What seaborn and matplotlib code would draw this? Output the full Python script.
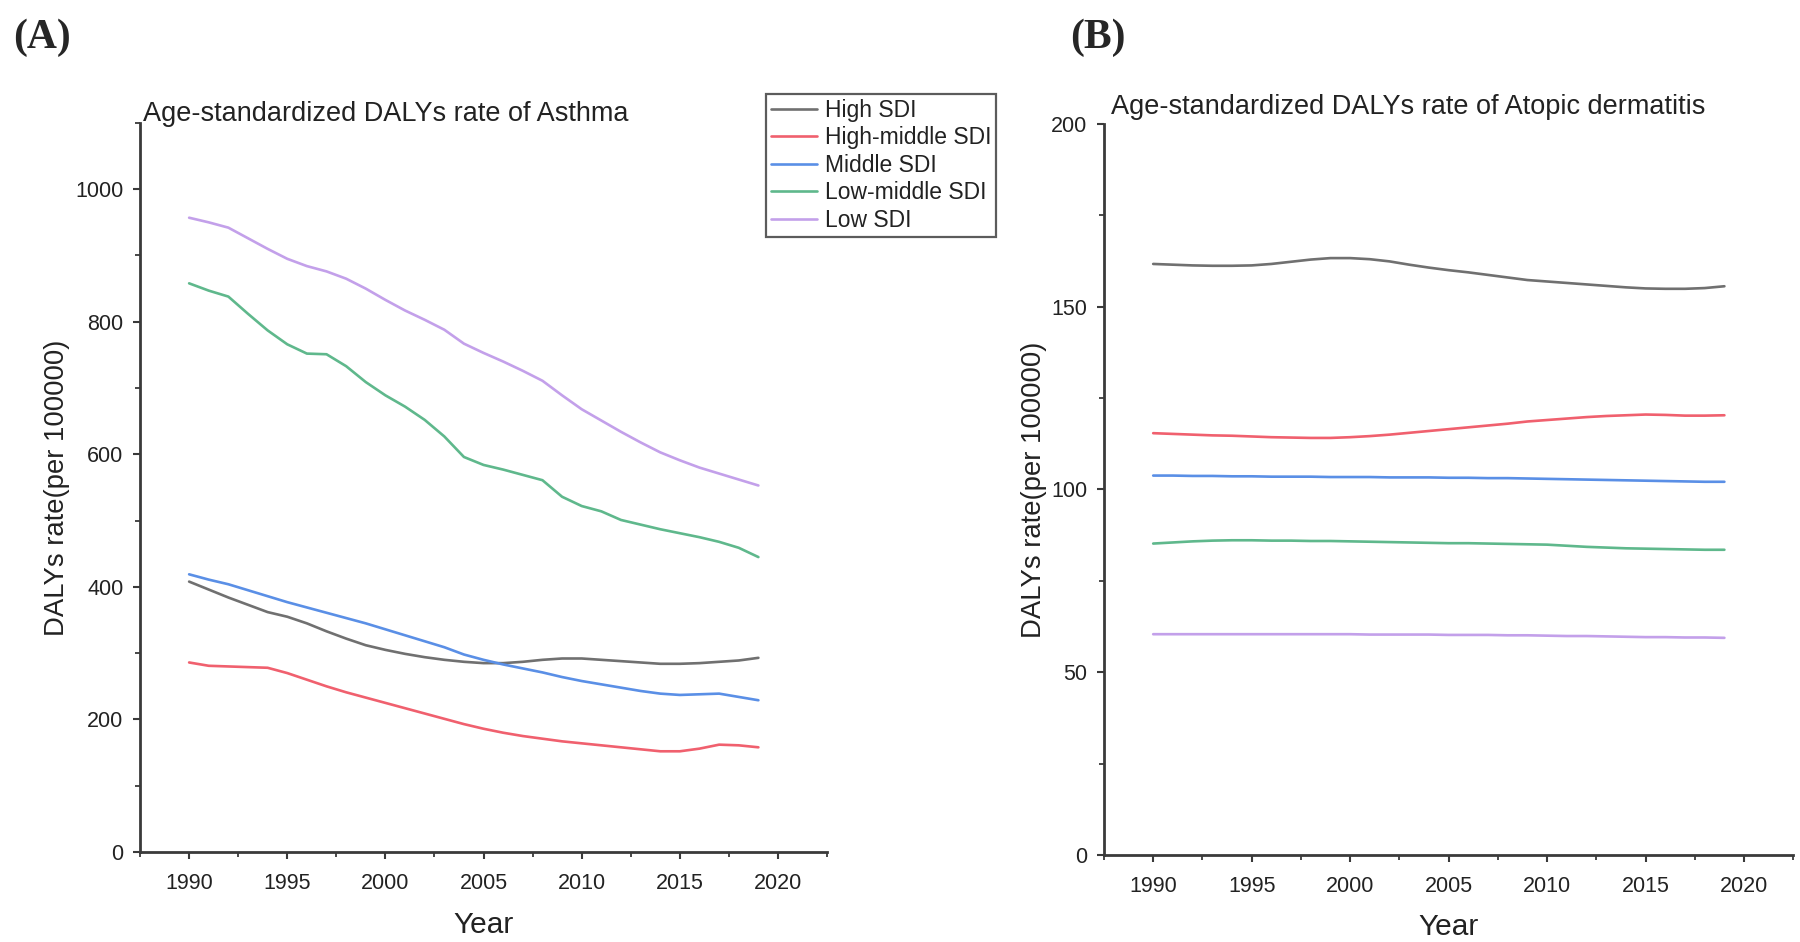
import numpy as np
import pandas as pd
import matplotlib
matplotlib.use("Agg")
import matplotlib.pyplot as plt
from matplotlib.ticker import MultipleLocator, AutoMinorLocator
import seaborn as sns

years = list(range(1990, 2020))
groups = ["High SDI", "High-middle SDI", "Middle SDI", "Low-middle SDI", "Low SDI"]
colors = ["#707070", "#f0606e", "#5a8fe6", "#5fb88c", "#c3a0ea"]

asthma_high = [408, 396, 384, 373, 362, 355, 345, 333, 322, 312, 305, 299, 294, 290, 287,
               285, 285, 287, 290, 292, 292, 290, 288, 286, 284, 284, 285, 287, 289, 293]
asthma_high_mid = [286, 281, 280, 279, 278, 270, 260, 250, 241, 233, 225, 217, 209, 201, 193,
                   186, 180, 175, 171, 167, 164, 161, 158, 155, 152, 152, 156, 162, 161, 158]
asthma_mid = [419, 411, 404, 395, 386, 377, 369, 361, 353, 345, 336, 327, 318, 309, 298,
              290, 283, 277, 271, 264, 258, 253, 248, 243, 239, 237, 238, 239, 234, 229]
asthma_low_mid = [858, 847, 838, 812, 787, 766, 752, 751, 733, 709, 689, 672, 652, 627, 596,
                  584, 577, 569, 561, 536, 522, 514, 501, 494, 487, 481, 475, 468, 459, 445]
asthma_low = [957, 950, 942, 926, 910, 895, 884, 876, 865, 850, 833, 817, 803, 788, 767,
              753, 740, 726, 711, 689, 668, 651, 634, 618, 603, 591, 580, 571, 562, 553]

ad_high = [161.7, 161.5, 161.3, 161.2, 161.2, 161.3, 161.7, 162.3, 162.9, 163.3, 163.3, 163.0,
           162.4, 161.5, 160.7, 160.0, 159.4, 158.7, 158.0, 157.3, 156.9, 156.5, 156.1, 155.7,
           155.3, 155.0, 154.9, 154.9, 155.1, 155.6]
ad_high_mid = [115.4, 115.2, 115.0, 114.8, 114.7, 114.5, 114.3, 114.2, 114.1, 114.1, 114.3, 114.6,
               115.0, 115.5, 116.0, 116.5, 117.0, 117.5, 118.0, 118.6, 119.0, 119.4, 119.8, 120.1,
               120.3, 120.5, 120.4, 120.2, 120.2, 120.3]
ad_mid = [103.8, 103.8, 103.7, 103.7, 103.6, 103.6, 103.5, 103.5, 103.5, 103.4, 103.4, 103.4,
          103.3, 103.3, 103.3, 103.2, 103.2, 103.1, 103.1, 103.0, 102.9, 102.8, 102.7, 102.6,
          102.5, 102.4, 102.3, 102.2, 102.1, 102.1]
ad_low_mid = [85.2, 85.5, 85.8, 86.0, 86.1, 86.1, 86.0, 86.0, 85.9, 85.9, 85.8, 85.7, 85.6, 85.5,
              85.4, 85.3, 85.3, 85.2, 85.1, 85.0, 84.9, 84.6, 84.3, 84.1, 83.9, 83.8, 83.7, 83.6,
              83.5, 83.5]
ad_low = [60.4, 60.4, 60.4, 60.4, 60.4, 60.4, 60.4, 60.4, 60.4, 60.4, 60.4, 60.3, 60.3, 60.3,
          60.3, 60.2, 60.2, 60.2, 60.1, 60.1, 60.0, 59.9, 59.9, 59.8, 59.7, 59.6, 59.6, 59.5,
          59.5, 59.4]

asthma = [asthma_high, asthma_high_mid, asthma_mid, asthma_low_mid, asthma_low]
ad = [ad_high, ad_high_mid, ad_mid, ad_low_mid, ad_low]


def to_long(series):
    rows = []
    for g, vals in zip(groups, series):
        for y, v in zip(years, vals):
            rows.append({"Year": y, "Group": g, "Value": v})
    return pd.DataFrame(rows)


sns.set_theme(style="ticks")
plt.rcParams["font.family"] = ["Liberation Sans", "DejaVu Sans"]

fig = plt.figure(figsize=(18, 9.42), dpi=100)
axA = fig.add_axes([0.0778, 0.0955, 0.3817, 0.774])
axB = fig.add_axes([0.6133, 0.0924, 0.383, 0.776])

palette = dict(zip(groups, colors))

for ax, series, ylim, ymaj, title, ty, tx in [
    (axA, asthma, 1100, 200, "Age-standardized DALYs rate of Asthma", 1.003, 0.004),
    (axB, ad, 200, 50, "Age-standardized DALYs rate of Atopic dermatitis", 1.014, 0.01),
]:
    df = to_long(series)
    sns.lineplot(data=df, x="Year", y="Value", hue="Group", hue_order=groups,
                 palette=palette, linewidth=1.9, ax=ax, legend=False)
    ax.set_xlim(1987.5, 2022.5)
    ax.set_ylim(0, ylim)
    ax.xaxis.set_major_locator(MultipleLocator(5))
    ax.xaxis.set_minor_locator(AutoMinorLocator(2))
    ax.yaxis.set_major_locator(MultipleLocator(ymaj))
    ax.yaxis.set_minor_locator(AutoMinorLocator(2))
    for s in ["top", "right"]:
        ax.spines[s].set_visible(False)
    for s in ["left", "bottom"]:
        ax.spines[s].set_linewidth(2.0)
        ax.spines[s].set_color("#3a3a3a")
    ax.tick_params(axis="both", which="major", length=5, width=1.5, color="#3a3a3a",
                   labelsize=15.5, labelcolor="#222222", direction="out")
    ax.tick_params(axis="both", which="minor", length=3.5, width=1.3, color="#3a3a3a",
                   direction="out")
    ax.tick_params(axis="x", which="major", pad=10)
    ax.tick_params(axis="y", which="major", pad=7)
    ax.set_xlabel("Year", fontsize=21.5, color="#222222")
    ax.set_ylabel("DALYs rate(per 100000)", fontsize=19.8, color="#222222")
    ax.text(tx, ty, title, transform=ax.transAxes, fontsize=19.5,
            color="#222222", ha="left", va="baseline")

axA.yaxis.set_label_coords(-0.1025, 0.5)
axB.yaxis.set_label_coords(-0.083, 0.5)
axA.xaxis.set_label_coords(0.5, -0.0802)
axB.xaxis.set_label_coords(0.5, -0.079)

fig.text(0.0072, 0.960, "(A)", fontsize=30, fontweight="bold",
         family=["Liberation Serif", "DejaVu Serif"], ha="left", va="center")
fig.text(0.5944, 0.960, "(B)", fontsize=30, fontweight="bold",
         family=["Liberation Serif", "DejaVu Serif"], ha="left", va="center")

handles = [plt.Line2D([], [], color=c, linewidth=1.9) for c in colors]
leg = fig.legend(handles, groups, loc="upper right", bbox_to_anchor=(0.5533, 0.9002),
                 fontsize=16.5, frameon=True, fancybox=False, shadow=False,
                 handlelength=2.0, handletextpad=0.35, labelspacing=0.2,
                 borderpad=0.2, borderaxespad=0)
leg.get_frame().set_edgecolor("#333333")
leg.get_frame().set_linewidth(1.6)
for t in leg.get_texts():
    t.set_color("#222222")

fig.savefig("out.png", dpi=100, facecolor="white")
